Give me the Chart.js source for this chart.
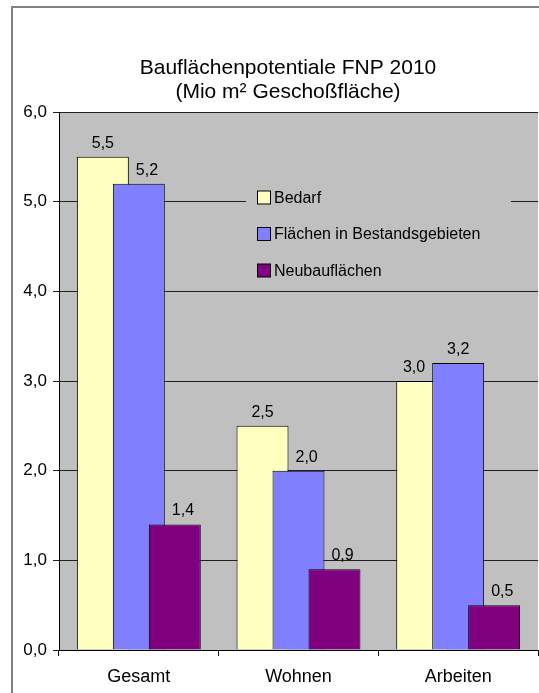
<!DOCTYPE html>
<html>
<head>
<meta charset="utf-8">
<script src="https://cdn.jsdelivr.net/npm/chart.js@4/dist/chart.umd.min.js"></script>
<style>
  html, body { margin: 0; padding: 0; background: #ffffff; }
  canvas { display: block; }
</style>
</head>
<body>
<canvas id="chart" width="539" height="693"></canvas>
<script>
// Categories and series
const categories = ['Gesamt', 'Wohnen', 'Arbeiten'];
const seriesNames = ['Bedarf', 'Flächen in Bestandsgebieten', 'Neubauflächen'];
const bedarf = [5.5, 2.5, 3.0];
const bestand = [5.2, 2.0, 3.2];
const neubau = [1.4, 0.9, 0.5];
const titleLines = ['Bauflächenpotentiale FNP 2010', '(Mio m² Geschoßfläche)'];

const seriesColors = ['#FFFFC0', '#8080FF', '#800080'];
const FONT = '"Liberation Sans", Arial, sans-serif';
const fmt = v => Number(v).toFixed(1).replace('.', ',');

// Frame, white background, grey plot area and two-line title
const framePlugin = {
  id: 'frame',
  beforeDraw(chart) {
    const ctx = chart.ctx;
    const a = chart.chartArea;
    ctx.save();
    ctx.fillStyle = '#ffffff';
    ctx.fillRect(0, 0, chart.width, chart.height);
    ctx.fillStyle = '#C0C0C0';
    ctx.fillRect(a.left, a.top, a.right - a.left, a.bottom - a.top);
    ctx.strokeStyle = '#808080';
    ctx.lineWidth = 2;
    ctx.beginPath();
    ctx.moveTo(12, chart.height);
    ctx.lineTo(12, 7);
    ctx.lineTo(chart.width, 7);
    ctx.stroke();
    ctx.fillStyle = '#000000';
    ctx.font = '21px ' + FONT;
    ctx.textAlign = 'center';
    ctx.textBaseline = 'alphabetic';
    ctx.fillText(titleLines[0], 288, 74);
    ctx.fillText(titleLines[1], 288, 98);
    ctx.restore();
  }
};

// Draw series in index order so later series overlap earlier ones
const overlapOrderPlugin = {
  id: 'overlapOrder',
  beforeDatasetsDraw(chart) {
    const a = chart.chartArea;
    const ctx = chart.ctx;
    ctx.save();
    ctx.beginPath();
    ctx.rect(a.left, a.top - 1, a.right - a.left, a.bottom - a.top + 1);
    ctx.clip();
    for (let i = 0; i < chart.data.datasets.length; i++) {
      const meta = chart.getDatasetMeta(i);
      if (meta.visible !== false) meta.controller.draw();
    }
    ctx.restore();
    return false;
  }
};

// Value labels above bars (pushed aside from taller neighbours) and legend box
const labelsLegendPlugin = {
  id: 'labelsLegend',
  afterDraw(chart) {
    const ctx = chart.ctx;
    const GAP = 7;
    ctx.save();
    ctx.fillStyle = '#000000';
    ctx.font = '16px ' + FONT;
    ctx.textAlign = 'center';
    ctx.textBaseline = 'alphabetic';
    const n = chart.data.datasets.length;
    chart.data.datasets.forEach((ds, i) => {
      const meta = chart.getDatasetMeta(i);
      meta.data.forEach((bar, j) => {
        const text = fmt(ds.data[j]);
        const w = ctx.measureText(text).width;
        const base = bar.y - 9;
        let cx = bar.x;
        if (i > 0) {
          const left = chart.getDatasetMeta(i - 1).data[j];
          if (left.y < base) cx = Math.max(cx, left.x + left.width / 2 + GAP + w / 2);
        }
        if (i < n - 1) {
          const right = chart.getDatasetMeta(i + 1).data[j];
          if (right.y < base) cx = Math.min(cx, right.x - right.width / 2 - GAP - w / 2);
        }
        ctx.fillText(text, cx, base);
      });
    });

    // legend
    const lx = 246, ly = 181, lw = 265, lh = 106;
    ctx.fillStyle = '#C0C0C0';
    ctx.fillRect(lx, ly, lw, lh);
    ctx.textAlign = 'left';
    ctx.textBaseline = 'middle';
    chart.data.datasets.forEach((ds, i) => {
      const cy = 197.5 + i * 36.5;
      ctx.fillStyle = ds.backgroundColor;
      ctx.fillRect(257.5, cy - 6.5, 13, 13);
      ctx.strokeStyle = '#000000';
      ctx.lineWidth = 1;
      ctx.strokeRect(257.5, cy - 6.5, 13, 13);
      ctx.fillStyle = '#000000';
      ctx.fillText(ds.label, 274, cy + 1);
    });
    ctx.restore();
  }
};

const datasets = [bedarf, bestand, neubau].map((values, i) => ({
  label: seriesNames[i],
  data: values,
  backgroundColor: seriesColors[i],
  borderColor: '#000000',
  borderWidth: 1,
  categoryPercentage: 0.676,
  barPercentage: 1.444
}));

new Chart(document.getElementById('chart'), {
  type: 'bar',
  data: { labels: categories, datasets },
  options: {
    responsive: false,
    animation: false,
    devicePixelRatio: 1,
    layout: { padding: { top: 112, right: 1, left: 0, bottom: 0 } },
    plugins: {
      legend: { display: false },
      title: { display: false },
      tooltip: { enabled: false }
    },
    scales: {
      x: {
        grid: {
          display: true,
          drawOnChartArea: false,
          drawTicks: true,
          tickLength: 6,
          offset: true,
          color: '#000000'
        },
        border: { display: true, color: '#000000', width: 1 },
        ticks: {
          color: '#000000',
          font: { family: FONT, size: 18 },
          padding: 10,
          maxRotation: 0
        },
        afterFit(scale) { scale.height = 43; }
      },
      y: {
        min: 0,
        max: 6,
        grid: {
          color: '#202020',
          lineWidth: 1,
          tickLength: 6,
          drawTicks: true
        },
        border: { display: true, color: '#000000', width: 1 },
        ticks: {
          stepSize: 1,
          color: '#000000',
          font: { family: FONT, size: 17 },
          padding: 6,
          callback: v => fmt(v)
        },
        afterFit(scale) { scale.width = 59; }
      }
    }
  },
  plugins: [framePlugin, overlapOrderPlugin, labelsLegendPlugin]
});
</script>
</body>
</html>
